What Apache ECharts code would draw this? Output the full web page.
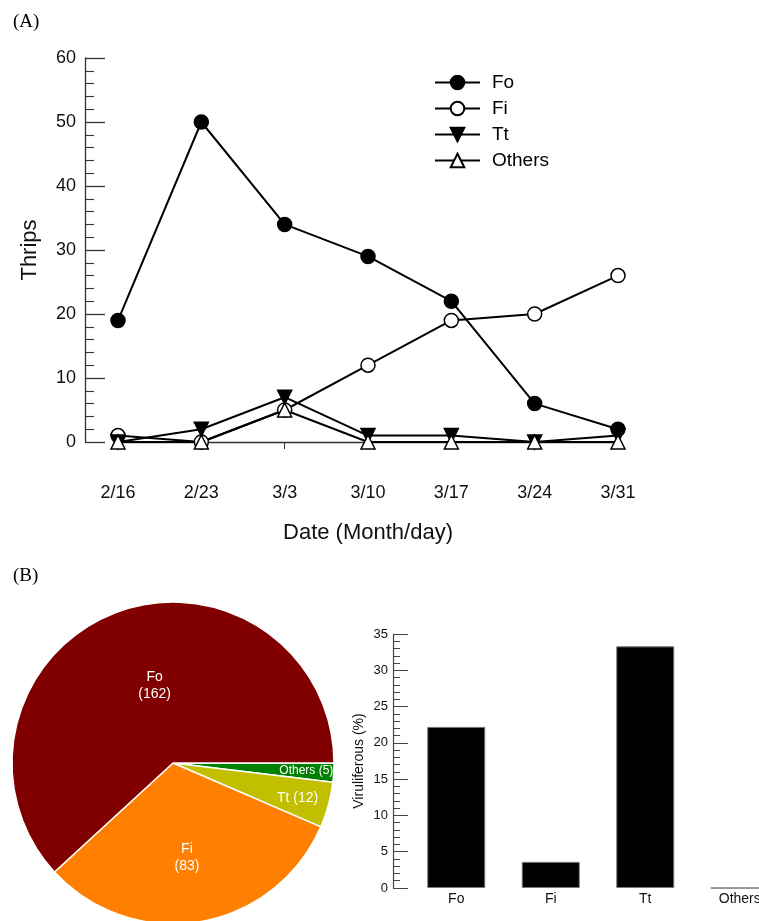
<!DOCTYPE html>
<html><head><meta charset="utf-8">
<script src="https://cdn.jsdelivr.net/npm/echarts@6/dist/echarts.min.js"></script>
<style>html,body{margin:0;padding:0;background:#fff}#c{width:759px;height:921px}</style>
</head><body><div id="c"></div>
<script>
const dates = ['2/16','2/23','3/3','3/10','3/17','3/24','3/31'];
const foCounts = [19, 50, 34, 29, 22, 6, 2];
const fiCounts = [1, 0, 5, 12, 19, 20, 26];
const ttCounts = [0, 2, 7, 1, 1, 0, 1];
const othersCounts = [0, 0, 5, 0, 0, 0, 0];
const species = ['Fo', 'Fi', 'Tt', 'Others'];
const totals = [162, 83, 12, 5];
const viruliferous = [22.2, 3.6, 33.3, 0];
const pieColors = ['#800000', '#ff8000', '#c2bf00', '#008000'];

const FONT = 'Liberation Sans, Arial, sans-serif';
const chart = echarts.init(document.getElementById('c'), null, {renderer: 'canvas'});

function lineSeries(name, data, symbol, fill, rotate) {
  return {
    name, type: 'line', data, xAxisIndex: 0, yAxisIndex: 0,
    symbol, symbolSize: 14, symbolRotate: rotate || 0,
    lineStyle: {color: '#000', width: 2},
    itemStyle: {color: fill, borderColor: '#000', borderWidth: 1.5},
    emphasis: {disabled: true}, animation: false
  };
}

// pie drawn clockwise from 3 o'clock: Others, Tt, Fi, Fo
const pieOrder = [3, 2, 1, 0];
const labelShift = {Fo: [12, 0], Fi: [0, 12], Tt: [44, 13], Others: [50, 3]};
const pieData = pieOrder.map(i => ({
  name: species[i], value: totals[i],
  itemStyle: {color: pieColors[i]},
  label: {
    formatter: (species[i] === 'Fo' || species[i] === 'Fi') ? '{b}\n({c})' : '{b} ({c})',
    fontSize: species[i] === 'Others' ? 12 : 14,
    lineHeight: 17
  }
}));

chart.setOption({
  animation: false,
  title: [
    {text: '(A)', left: 8, top: 8, textStyle: {fontFamily: 'Liberation Serif, DejaVu Serif, serif', fontSize: 19, fontWeight: 'normal', color: '#000'}},
    {text: '(B)', left: 8, top: 562, textStyle: {fontFamily: 'Liberation Serif, DejaVu Serif, serif', fontSize: 19, fontWeight: 'normal', color: '#000'}}
  ],
  legend: {
    data: ['Fo', 'Fi', 'Tt', 'Others'],
    orient: 'vertical', left: 429, top: 68,
    itemWidth: 45, itemHeight: 17, itemGap: 7,
    textStyle: {fontFamily: FONT, fontSize: 19, color: '#000', padding: [0, 0, 0, 7]},
    selectedMode: false
  },
  grid: [
    {left: 118, right: 141, top: 58, bottom: 479, outerBoundsMode: 'none', containLabel: false},
    {left: 409, width: 378, top: 634, bottom: 33, outerBoundsMode: 'none', containLabel: false}
  ],
  xAxis: [
    {type: 'category', gridIndex: 0, data: dates, boundaryGap: false, offset: 22,
     axisLine: {lineStyle: {color: '#333', width: 1.3}},
     axisTick: {inside: false, length: 7, lineStyle: {color: '#333'}},
     axisLabel: {fontFamily: FONT, fontSize: 18, color: '#111', margin: 20},
     name: 'Date (Month/day)', nameLocation: 'middle', nameGap: 58,
     nameTextStyle: {fontFamily: FONT, fontSize: 22, color: '#111'}},
    {type: 'category', gridIndex: 1, data: species,
     axisLine: {show: false}, axisTick: {show: false},
     axisLabel: {fontFamily: FONT, fontSize: 14, color: '#111', margin: 4}}
  ],
  yAxis: [
    {type: 'value', gridIndex: 0, min: 0, max: 60, interval: 10, offset: 33,
     axisLine: {show: true, lineStyle: {color: '#333', width: 1.3}},
     axisTick: {show: true, inside: true, length: 20, lineStyle: {color: '#333', width: 1.3}},
     minorTick: {show: true, splitNumber: 5, length: 9, lineStyle: {color: '#333', width: 1.1}},
     splitLine: {show: false},
     axisLabel: {fontFamily: FONT, fontSize: 18, color: '#111', margin: 9},
     name: 'Thrips', nameLocation: 'middle', nameGap: 44,
     nameTextStyle: {fontFamily: FONT, fontSize: 22, color: '#111'}},
    {type: 'value', gridIndex: 1, min: 0, max: 35, interval: 5, offset: 16,
     axisLine: {show: true, lineStyle: {color: '#444', width: 1.2}},
     axisTick: {show: true, inside: true, length: 15, lineStyle: {color: '#444'}},
     minorTick: {show: true, splitNumber: 5, length: 7, lineStyle: {color: '#444'}},
     splitLine: {show: false},
     axisLabel: {fontFamily: FONT, fontSize: 13, color: '#111', margin: 5},
     name: 'Viruliferous (%)', nameLocation: 'middle', nameGap: 27,
     nameTextStyle: {fontFamily: FONT, fontSize: 14, color: '#111'}}
  ],
  series: [
    lineSeries('Fo', foCounts, 'circle', '#000'),
    lineSeries('Fi', fiCounts, 'circle', '#fff'),
    lineSeries('Tt', ttCounts, 'triangle', '#000', 180),
    lineSeries('Others', othersCounts, 'triangle', '#fff'),
    {type: 'bar', xAxisIndex: 1, yAxisIndex: 1, data: viruliferous, barWidth: 58,
     itemStyle: {color: '#000', borderColor: '#777', borderWidth: 1}, emphasis: {disabled: true}},
    {type: 'pie', center: [173, 763], radius: 161, startAngle: 0, clockwise: true,
     data: pieData, emphasis: {disabled: true},
     itemStyle: {borderColor: '#fff', borderWidth: 1.5},
     label: {show: true, position: 'inside', color: '#fff', fontFamily: FONT},
     labelLine: {show: false},
     labelLayout: function (p) {
       const s = labelShift[pieData[p.dataIndex].name];
       return {dx: s[0], dy: s[1]};
     }}
  ]
});
</script></body></html>
